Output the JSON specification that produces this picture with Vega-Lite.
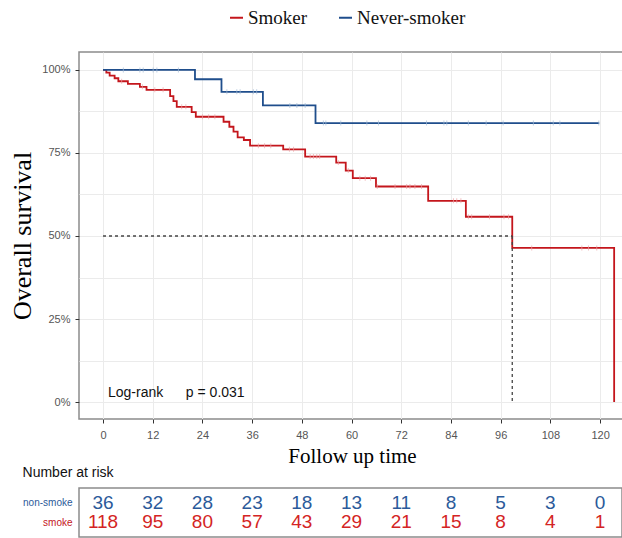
{
  "$schema": "https://vega.github.io/schema/vega-lite/v6.json",
  "autosize": "none",
  "padding": {"left": 79, "top": 52, "right": 543, "bottom": 486},
  "bounds": "flush",
  "spacing": 69,
  "background": "white",
  "config": {
    "view": {"stroke": "#8c8c8c", "strokeWidth": 1.5},
    "axis": {"gridColor": "#ebebeb", "gridWidth": 1, "domain": false, "labelFont": "Liberation Sans", "labelFontSize": 11, "labelColor": "#555555", "tickSize": 4, "tickWidth": 1}
  },
  "datasets": {
    "curves": [
      {"group": "Smoker", "t": 0, "s": 1},
      {"group": "Smoker", "t": 0.8, "s": 0.992},
      {"group": "Smoker", "t": 1.6, "s": 0.983},
      {"group": "Smoker", "t": 2.8, "s": 0.975},
      {"group": "Smoker", "t": 3.7, "s": 0.966},
      {"group": "Smoker", "t": 6.0, "s": 0.958},
      {"group": "Smoker", "t": 8.9, "s": 0.949},
      {"group": "Smoker", "t": 10.5, "s": 0.94},
      {"group": "Smoker", "t": 16.2, "s": 0.921},
      {"group": "Smoker", "t": 17.0, "s": 0.906},
      {"group": "Smoker", "t": 17.8, "s": 0.889},
      {"group": "Smoker", "t": 21.4, "s": 0.873},
      {"group": "Smoker", "t": 22.4, "s": 0.859},
      {"group": "Smoker", "t": 29.1, "s": 0.844},
      {"group": "Smoker", "t": 30.5, "s": 0.829},
      {"group": "Smoker", "t": 31.5, "s": 0.814},
      {"group": "Smoker", "t": 32.5, "s": 0.797},
      {"group": "Smoker", "t": 34.0, "s": 0.789},
      {"group": "Smoker", "t": 35.5, "s": 0.772},
      {"group": "Smoker", "t": 43.5, "s": 0.761},
      {"group": "Smoker", "t": 48.8, "s": 0.739},
      {"group": "Smoker", "t": 56.3, "s": 0.721},
      {"group": "Smoker", "t": 58.6, "s": 0.697},
      {"group": "Smoker", "t": 60.3, "s": 0.674},
      {"group": "Smoker", "t": 65.9, "s": 0.649},
      {"group": "Smoker", "t": 78.5, "s": 0.606},
      {"group": "Smoker", "t": 87.6, "s": 0.558},
      {"group": "Smoker", "t": 98.8, "s": 0.464},
      {"group": "Smoker", "t": 123.4, "s": 0},
      {"group": "Never-smoker", "t": 0, "s": 1},
      {"group": "Never-smoker", "t": 22.2, "s": 0.972},
      {"group": "Never-smoker", "t": 28.6, "s": 0.934},
      {"group": "Never-smoker", "t": 38.6, "s": 0.893},
      {"group": "Never-smoker", "t": 51.3, "s": 0.84},
      {"group": "Never-smoker", "t": 119.8, "s": 0.84}
    ],
    "censors": [
      {"group": "Never-smoker", "t": 4.9, "s": 1},
      {"group": "Never-smoker", "t": 8.9, "s": 1},
      {"group": "Never-smoker", "t": 9.7, "s": 1},
      {"group": "Never-smoker", "t": 12.1, "s": 1},
      {"group": "Never-smoker", "t": 13.0, "s": 1},
      {"group": "Never-smoker", "t": 18.2, "s": 1},
      {"group": "Never-smoker", "t": 29.9, "s": 0.934},
      {"group": "Never-smoker", "t": 32.3, "s": 0.934},
      {"group": "Never-smoker", "t": 33.1, "s": 0.934},
      {"group": "Never-smoker", "t": 36.3, "s": 0.934},
      {"group": "Never-smoker", "t": 37.1, "s": 0.934},
      {"group": "Never-smoker", "t": 45.1, "s": 0.893},
      {"group": "Never-smoker", "t": 46.8, "s": 0.893},
      {"group": "Never-smoker", "t": 48.8, "s": 0.893},
      {"group": "Never-smoker", "t": 53.2, "s": 0.84},
      {"group": "Never-smoker", "t": 53.8, "s": 0.84},
      {"group": "Never-smoker", "t": 57.4, "s": 0.84},
      {"group": "Never-smoker", "t": 63.7, "s": 0.84},
      {"group": "Never-smoker", "t": 66.5, "s": 0.84},
      {"group": "Never-smoker", "t": 78.1, "s": 0.84},
      {"group": "Never-smoker", "t": 82.3, "s": 0.84},
      {"group": "Never-smoker", "t": 83.0, "s": 0.84},
      {"group": "Never-smoker", "t": 88.2, "s": 0.84},
      {"group": "Never-smoker", "t": 92.5, "s": 0.84},
      {"group": "Never-smoker", "t": 96.6, "s": 0.84},
      {"group": "Never-smoker", "t": 103.9, "s": 0.84},
      {"group": "Never-smoker", "t": 108.7, "s": 0.84},
      {"group": "Never-smoker", "t": 110.3, "s": 0.84},
      {"group": "Never-smoker", "t": 119.7, "s": 0.84},
      {"group": "Smoker", "t": 4.5, "s": 0.966},
      {"group": "Smoker", "t": 9.5, "s": 0.949},
      {"group": "Smoker", "t": 12.5, "s": 0.94},
      {"group": "Smoker", "t": 14.5, "s": 0.94},
      {"group": "Smoker", "t": 19.0, "s": 0.889},
      {"group": "Smoker", "t": 20.0, "s": 0.889},
      {"group": "Smoker", "t": 24.0, "s": 0.859},
      {"group": "Smoker", "t": 25.5, "s": 0.859},
      {"group": "Smoker", "t": 27.0, "s": 0.859},
      {"group": "Smoker", "t": 37.5, "s": 0.772},
      {"group": "Smoker", "t": 39.0, "s": 0.772},
      {"group": "Smoker", "t": 40.5, "s": 0.772},
      {"group": "Smoker", "t": 45.0, "s": 0.761},
      {"group": "Smoker", "t": 46.0, "s": 0.761},
      {"group": "Smoker", "t": 50.0, "s": 0.739},
      {"group": "Smoker", "t": 50.8, "s": 0.739},
      {"group": "Smoker", "t": 51.6, "s": 0.739},
      {"group": "Smoker", "t": 52.3, "s": 0.739},
      {"group": "Smoker", "t": 56.8, "s": 0.721},
      {"group": "Smoker", "t": 59.2, "s": 0.697},
      {"group": "Smoker", "t": 62.0, "s": 0.674},
      {"group": "Smoker", "t": 63.3, "s": 0.674},
      {"group": "Smoker", "t": 64.6, "s": 0.674},
      {"group": "Smoker", "t": 66.2, "s": 0.649},
      {"group": "Smoker", "t": 70.5, "s": 0.649},
      {"group": "Smoker", "t": 73.3, "s": 0.649},
      {"group": "Smoker", "t": 74.1, "s": 0.649},
      {"group": "Smoker", "t": 75.3, "s": 0.649},
      {"group": "Smoker", "t": 76.9, "s": 0.649},
      {"group": "Smoker", "t": 84.6, "s": 0.606},
      {"group": "Smoker", "t": 85.4, "s": 0.606},
      {"group": "Smoker", "t": 86.4, "s": 0.606},
      {"group": "Smoker", "t": 88.2, "s": 0.558},
      {"group": "Smoker", "t": 89.0, "s": 0.558},
      {"group": "Smoker", "t": 93.3, "s": 0.558},
      {"group": "Smoker", "t": 96.8, "s": 0.558},
      {"group": "Smoker", "t": 97.9, "s": 0.558},
      {"group": "Smoker", "t": 103.5, "s": 0.464},
      {"group": "Smoker", "t": 115.6, "s": 0.464},
      {"group": "Smoker", "t": 117.2, "s": 0.464},
      {"group": "Smoker", "t": 119.2, "s": 0.464}
    ],
    "median": [
      {"t": 0, "t2": 98.8, "s": 0.5, "s2": 0.5},
      {"t": 98.8, "t2": 98.8, "s": 0.5, "s2": 0}
    ],
    "notes": [
      {"t": 1.2, "s": 0.027, "label": "Log-rank"},
      {"t": 20.0, "s": 0.027, "label": "p = 0.031"}
    ],
    "risk": [
      {"group": "non-smoke", "t": 0, "n": 36},
      {"group": "non-smoke", "t": 12, "n": 32},
      {"group": "non-smoke", "t": 24, "n": 28},
      {"group": "non-smoke", "t": 36, "n": 23},
      {"group": "non-smoke", "t": 48, "n": 18},
      {"group": "non-smoke", "t": 60, "n": 13},
      {"group": "non-smoke", "t": 72, "n": 11},
      {"group": "non-smoke", "t": 84, "n": 8},
      {"group": "non-smoke", "t": 96, "n": 5},
      {"group": "non-smoke", "t": 108, "n": 3},
      {"group": "non-smoke", "t": 120, "n": 0},
      {"group": "smoke", "t": 0, "n": 118},
      {"group": "smoke", "t": 12, "n": 95},
      {"group": "smoke", "t": 24, "n": 80},
      {"group": "smoke", "t": 36, "n": 57},
      {"group": "smoke", "t": 48, "n": 43},
      {"group": "smoke", "t": 60, "n": 29},
      {"group": "smoke", "t": 72, "n": 21},
      {"group": "smoke", "t": 84, "n": 15},
      {"group": "smoke", "t": 96, "n": 8},
      {"group": "smoke", "t": 108, "n": 4},
      {"group": "smoke", "t": 120, "n": 1}
    ]
  },
  "resolve": {"scale": {"color": "independent"}, "legend": {"color": "independent"}},
  "vconcat": [
    {
      "width": 546,
      "height": 367,
      "layer": [
        {
          "data": {"name": "curves"},
          "mark": {"type": "line", "interpolate": "step-after", "strokeWidth": 1.8},
          "encoding": {
            "x": {
              "field": "t", "type": "quantitative",
              "scale": {"domain": [-5.8, 126.02], "nice": false, "zero": false},
              "axis": {
                "values": [0, 6, 12, 18, 24, 30, 36, 42, 48, 54, 60, 66, 72, 78, 84, 90, 96, 102, 108, 114, 120],
                "labelExpr": "datum.value % 12 == 0 ? datum.label : ''",
                "tickColor": {"condition": {"test": "datum.value % 12 != 0", "value": "transparent"}, "value": "#333333"},
                "labelPadding": 6,
                "title": "Follow up time",
                "titleFont": "Liberation Serif",
                "titleFontSize": 21,
                "titleFontWeight": "normal",
                "titleColor": "#000000",
                "titlePadding": 5,
                "titleX": 273
              }
            },
            "y": {
              "field": "s", "type": "quantitative",
              "scale": {"domain": [-0.051, 1.054], "nice": false, "zero": false},
              "axis": {
                "values": [0, 0.125, 0.25, 0.375, 0.5, 0.625, 0.75, 0.875, 1],
                "format": ".0%",
                "labelExpr": "(datum.value * 1000) % 250 == 0 ? datum.label : ''",
                "tickColor": {"condition": {"test": "(datum.value * 1000) % 250 != 0", "value": "transparent"}, "value": "#333333"},
                "labelPadding": 5,
                "title": "Overall survival",
                "titleFont": "Liberation Serif",
                "titleFontSize": 26,
                "titleFontWeight": "normal",
                "titleColor": "#000000",
                "titlePadding": 6
              }
            },
            "color": {
              "field": "group", "type": "nominal",
              "scale": {"domain": ["Smoker", "Never-smoker"], "range": ["#C4161C", "#1F4E8C"]},
              "legend": {
                "orient": "none", "legendX": 148, "legendY": -44, "direction": "horizontal",
                "title": null, "symbolType": "stroke", "symbolStrokeWidth": 2, "symbolSize": 170,
                "labelFont": "Liberation Serif", "labelFontSize": 19, "labelColor": "#111111",
                "columnPadding": 26, "labelOffset": 2, "padding": 0
              }
            }
          }
        },
        {
          "data": {"name": "censors"},
          "mark": {"type": "tick", "orient": "vertical", "size": 5, "thickness": 1},
          "encoding": {
            "x": {"field": "t", "type": "quantitative"},
            "y": {"field": "s", "type": "quantitative"},
            "color": {"condition": {"test": "datum.group == 'Smoker'", "value": "#EBA3A5"}, "value": "#A3BAD6"}
          }
        },
        {
          "data": {"name": "median"},
          "mark": {"type": "rule", "strokeDash": [3, 3], "color": "#444444", "strokeWidth": 1.3},
          "encoding": {
            "x": {"field": "t", "type": "quantitative"},
            "x2": {"field": "t2"},
            "y": {"field": "s", "type": "quantitative"},
            "y2": {"field": "s2"}
          }
        },
        {
          "data": {"name": "notes"},
          "mark": {"type": "text", "align": "left", "baseline": "middle", "font": "Liberation Sans", "fontSize": 14, "color": "#111111"},
          "encoding": {
            "x": {"field": "t", "type": "quantitative"},
            "y": {"field": "s", "type": "quantitative"},
            "text": {"field": "label"}
          }
        }
      ]
    },
    {
      "width": 543,
      "height": 49,
      "title": {"text": "Number at risk", "anchor": "start", "font": "Liberation Sans", "fontSize": 14, "fontWeight": "normal", "color": "#111111", "offset": 8},
      "data": {"name": "risk"},
      "mark": {"type": "text", "font": "Liberation Sans", "fontSize": 19, "baseline": "middle"},
      "encoding": {
        "x": {"field": "t", "type": "quantitative", "scale": {"domain": [-5.8, 125.3], "nice": false, "zero": false}, "axis": null},
        "y": {
          "field": "group", "type": "nominal",
          "scale": {"type": "point", "domain": ["non-smoke", "smoke"], "padding": 0.75},
          "axis": {
            "title": null, "ticks": false, "grid": false, "labelFontSize": 10, "labelPadding": 7,
            "labelColor": {"condition": {"test": "datum.value == 'smoke'", "value": "#C4161C"}, "value": "#2B5A9A"}
          }
        },
        "text": {"field": "n", "type": "quantitative"},
        "color": {
          "field": "group", "type": "nominal",
          "scale": {"domain": ["non-smoke", "smoke"], "range": ["#2B5A9A", "#D42424"]},
          "legend": null
        }
      }
    }
  ]
}
